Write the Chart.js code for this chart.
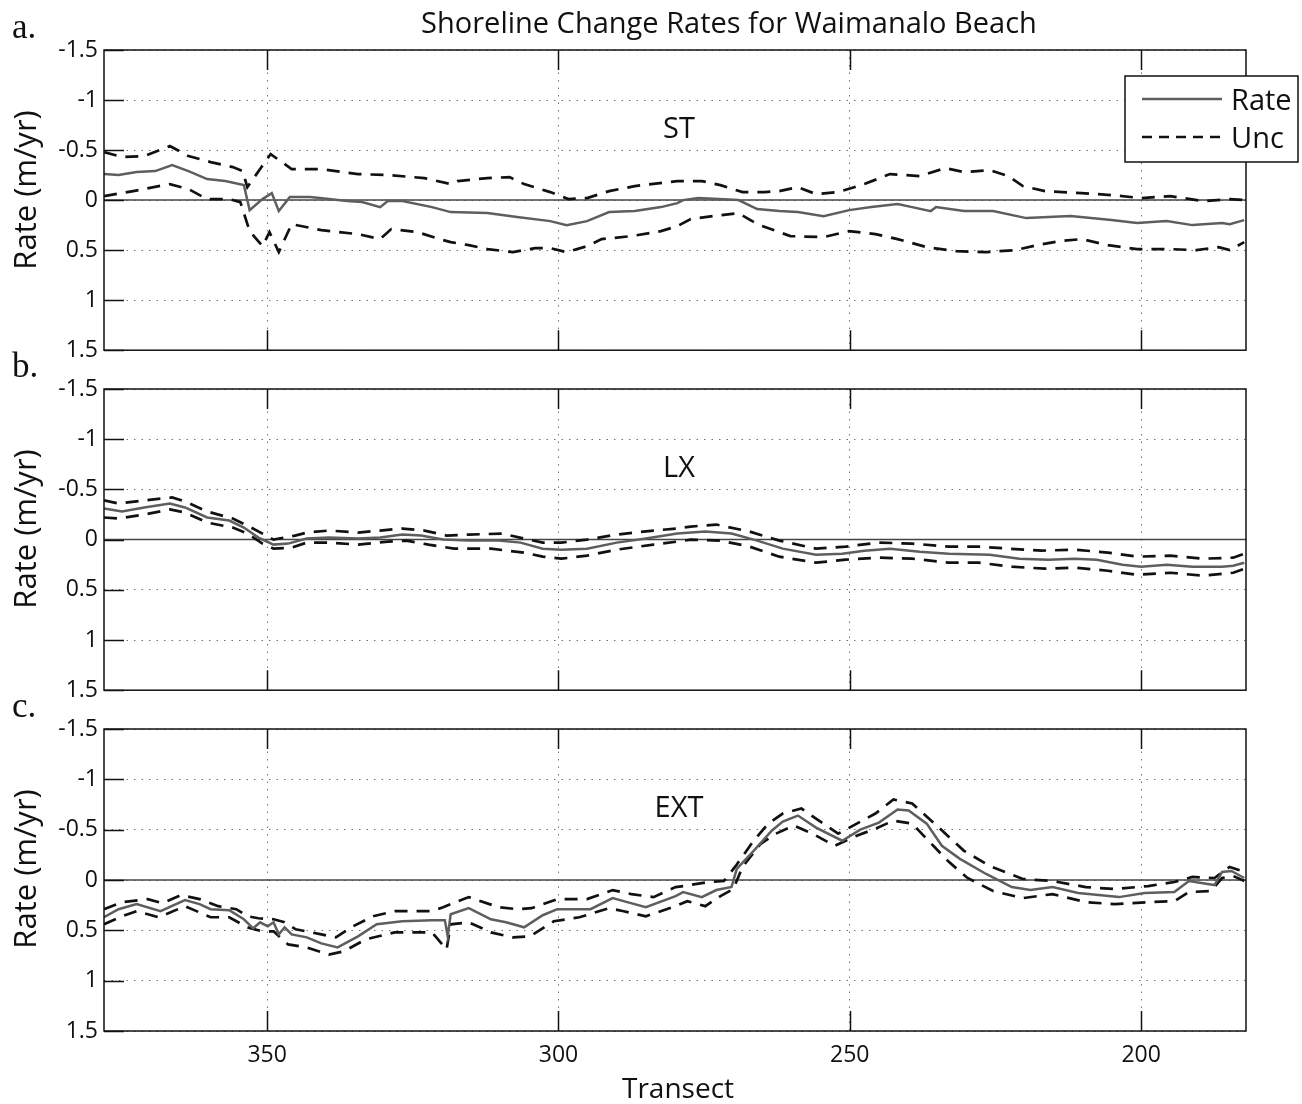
<!DOCTYPE html>
<html>
<head>
<meta charset="utf-8">
<script src="https://cdn.jsdelivr.net/npm/chart.js@4/dist/chart.umd.min.js"></script>
<style>
  body { margin: 0; background: #fff; width: 1302px; height: 1104px; position: relative; overflow: hidden; }
  canvas { position: absolute; left: 0; display: block; }
</style>
</head>
<body>
<canvas id="panelA" width="1302" height="370" style="top:0px"></canvas>
<canvas id="panelB" width="1302" height="360" style="top:350px"></canvas>
<canvas id="panelC" width="1302" height="414" style="top:690px"></canvas>
<script>
// axis ticks
const xTicks = [350, 300, 250, 200];
const yTicks = [-1.5, -1, -0.5, 0, 0.5, 1, 1.5];
const yTickLabels = ['-1.5', '-1', '-0.5', '0', '0.5', '1', '1.5'];

// ST (panel a)
const stRateT = [378, 375.5, 372.4, 369.2, 366.3, 363.5, 360.3, 357.2, 354, 353, 350.8, 349.2, 348, 346.1, 342.6, 339.4, 336.3, 333.7, 330.6, 329.3, 326.8, 321.7, 318.5, 312.2, 307.1, 301.4, 298.6, 295.1, 291.3, 286.9, 282.4, 279.6, 278.6, 276, 269.1, 265.9, 262.1, 258.9, 254.5, 250.1, 246.3, 241.8, 239.3, 236.1, 235.2, 230.4, 225.4, 219.7, 212.1, 205.1, 200.7, 195.6, 191.2, 186.1, 184.8, 182.3];
const stRate = [-0.26, -0.25, -0.28, -0.29, -0.35, -0.29, -0.21, -0.19, -0.15, 0.10, -0.01, -0.07, 0.11, -0.03, -0.03, -0.01, 0.01, 0.02, 0.07, 0.01, 0.01, 0.07, 0.12, 0.13, 0.17, 0.21, 0.25, 0.21, 0.12, 0.11, 0.07, 0.03, 0.00, -0.02, 0.00, 0.09, 0.11, 0.12, 0.16, 0.10, 0.07, 0.04, 0.07, 0.11, 0.07, 0.11, 0.11, 0.18, 0.16, 0.20, 0.23, 0.21, 0.25, 0.23, 0.24, 0.20];
const stUpT = [378, 374.9, 371.1, 366.7, 363.5, 359.7, 355.9, 354.2, 353.4, 349.4, 345.8, 340.7, 334.4, 329.3, 323, 318.5, 317.3, 312.2, 308.4, 305.9, 301.4, 298.3, 295.1, 291.3, 286.9, 279.6, 275.4, 272.2, 268.4, 264.6, 262.1, 258.9, 255.8, 252, 247.5, 243.1, 238, 233.6, 230.4, 226, 222.8, 220.3, 216.5, 210.2, 205.1, 200, 195, 189.3, 184.8, 182.3];
const stUp = [-0.48, -0.43, -0.44, -0.54, -0.44, -0.38, -0.33, -0.29, -0.13, -0.46, -0.31, -0.31, -0.26, -0.25, -0.22, -0.16, -0.19, -0.22, -0.23, -0.16, -0.08, -0.01, -0.02, -0.09, -0.14, -0.19, -0.19, -0.15, -0.08, -0.08, -0.09, -0.13, -0.06, -0.08, -0.16, -0.26, -0.24, -0.32, -0.28, -0.30, -0.24, -0.14, -0.09, -0.07, -0.05, -0.02, -0.04, 0.01, -0.01, 0.00];
const stLoT = [378, 373, 366.7, 363.5, 360.3, 356.5, 354.6, 353, 350.8, 349.6, 348, 345.8, 340.7, 334.4, 330.6, 328.7, 324.2, 320.4, 318.5, 315.4, 312.2, 307.8, 304, 301.4, 298.6, 295.1, 292.6, 287.5, 282.4, 279.6, 277.3, 273.5, 269.1, 265.9, 260.2, 254.5, 250.1, 245.6, 241.8, 236.8, 231.7, 226.6, 221.6, 217.8, 214, 210.2, 205.7, 200.7, 195, 190.5, 186.7, 184.8, 182.3];
const stLo = [-0.04, -0.09, -0.16, -0.11, -0.01, -0.01, 0.02, 0.31, 0.46, 0.32, 0.52, 0.24, 0.30, 0.34, 0.39, 0.29, 0.32, 0.39, 0.42, 0.45, 0.49, 0.52, 0.48, 0.48, 0.52, 0.46, 0.39, 0.36, 0.31, 0.26, 0.19, 0.16, 0.13, 0.24, 0.36, 0.37, 0.31, 0.34, 0.39, 0.47, 0.51, 0.52, 0.50, 0.45, 0.41, 0.39, 0.45, 0.49, 0.49, 0.50, 0.47, 0.50, 0.42];

// LX (panel b)
const lxRateT = [378, 374.9, 371.1, 366.7, 364.1, 360.3, 356.5, 354, 351.5, 348.9, 346.4, 343.2, 339.4, 334.4, 330.6, 326.8, 323.6, 319.8, 315.4, 310.3, 306.5, 302.7, 299.5, 295.1, 290, 285, 279.6, 274.8, 270.3, 265.9, 261.5, 255.8, 251.3, 247.5, 243.1, 238, 233, 226, 220.9, 215.9, 211.4, 207.6, 203.2, 200, 195.6, 191.2, 186.1, 184.2, 182.3];
const lxRate = [-0.31, -0.28, -0.32, -0.36, -0.32, -0.22, -0.19, -0.12, -0.02, 0.05, 0.04, -0.01, -0.02, -0.01, -0.02, -0.05, -0.04, 0.00, 0.01, 0.01, 0.03, 0.09, 0.10, 0.09, 0.03, -0.01, -0.06, -0.08, -0.06, 0.01, 0.09, 0.15, 0.14, 0.11, 0.09, 0.12, 0.14, 0.15, 0.19, 0.20, 0.19, 0.20, 0.25, 0.27, 0.25, 0.27, 0.27, 0.26, 0.23];
const lxUpT = [378, 375.5, 371.1, 366.3, 364.1, 360.3, 355.9, 353.4, 350.8, 348.9, 345.2, 343.2, 339.4, 334.4, 330.6, 326.8, 323, 319.2, 315.4, 309.7, 305.9, 302.7, 299.5, 295.1, 290, 283.7, 279.6, 277.3, 272.9, 267.2, 262.1, 255.8, 250.7, 245, 239.3, 233, 227.9, 222.8, 217.1, 211.4, 205.7, 200.7, 195, 189.3, 184.2, 182.3];
const lxUp = [-0.39, -0.36, -0.39, -0.42, -0.38, -0.28, -0.21, -0.14, -0.06, 0.00, -0.04, -0.07, -0.09, -0.07, -0.09, -0.11, -0.09, -0.04, -0.05, -0.06, -0.01, 0.03, 0.03, 0.00, -0.05, -0.09, -0.11, -0.13, -0.15, -0.08, 0.01, 0.09, 0.07, 0.03, 0.04, 0.07, 0.07, 0.09, 0.11, 0.10, 0.13, 0.17, 0.16, 0.19, 0.18, 0.14];
const lxLoT = [378, 375.5, 371.1, 366.7, 364.1, 360.3, 355.9, 353.4, 350.8, 348.9, 345.8, 343.2, 339.4, 334.4, 329.3, 326.1, 322.3, 317.9, 311.6, 305.9, 302.7, 299.5, 295.1, 290, 283.7, 279.6, 277.3, 272.2, 267.2, 262.1, 255.8, 250.7, 245, 239.3, 233, 227.9, 222.2, 216.5, 211.4, 205.7, 200.7, 195, 189.3, 184.2, 182.3];
const lxLo = [-0.22, -0.21, -0.25, -0.30, -0.27, -0.17, -0.12, -0.06, 0.04, 0.09, 0.08, 0.03, 0.03, 0.05, 0.02, 0.01, 0.05, 0.09, 0.09, 0.13, 0.17, 0.19, 0.16, 0.10, 0.05, 0.02, 0.00, 0.01, 0.07, 0.17, 0.23, 0.20, 0.18, 0.19, 0.23, 0.23, 0.27, 0.29, 0.28, 0.31, 0.35, 0.33, 0.36, 0.33, 0.29];

// EXT (panel c)
const extRateT = [378, 375.5, 372.4, 368.3, 364.1, 361.6, 359.7, 356.5, 354, 352.4, 351.2, 349.9, 348.9, 348, 347, 345.8, 343.2, 340.7, 337.9, 334.4, 331.2, 326.8, 321.7, 319.5, 319, 318.5, 315.4, 311.6, 309, 305.9, 302.7, 300.2, 294.5, 290.7, 288.2, 285, 279.9, 278.6, 275.4, 272.9, 270.3, 269.4, 266.5, 263.4, 261.5, 258.9, 255.8, 251.3, 248.2, 245, 241.8, 239.9, 236.8, 234.2, 231.1, 226.6, 222.2, 219, 215.2, 210.8, 203.8, 199.4, 194.3, 191.8, 187.4, 186.1, 184.5, 182.3];
const extRate = [0.37, 0.29, 0.24, 0.31, 0.20, 0.24, 0.29, 0.30, 0.39, 0.48, 0.42, 0.46, 0.42, 0.54, 0.47, 0.54, 0.57, 0.63, 0.67, 0.56, 0.44, 0.41, 0.40, 0.40, 0.56, 0.34, 0.28, 0.39, 0.42, 0.47, 0.35, 0.29, 0.29, 0.18, 0.22, 0.27, 0.16, 0.12, 0.17, 0.10, 0.07, -0.11, -0.29, -0.49, -0.58, -0.64, -0.52, -0.39, -0.50, -0.57, -0.70, -0.69, -0.56, -0.34, -0.21, -0.06, 0.07, 0.10, 0.07, 0.13, 0.17, 0.13, 0.12, 0.01, 0.05, -0.08, -0.09, -0.02];
const extUpT = [378, 374.9, 370.5, 368, 364.8, 361.6, 358.4, 355.3, 353.4, 351.5, 348.9, 347, 345.1, 340.7, 338.2, 335.6, 331.8, 328.1, 321.7, 319.8, 318.5, 315.4, 310.3, 307.1, 304.6, 300.2, 295.1, 290.7, 287.5, 283.7, 279.9, 278.6, 274.1, 271.6, 269.7, 266.5, 264, 261.5, 258.3, 255.8, 252, 248.8, 245.6, 242.5, 239.3, 234.9, 230.4, 226, 220.3, 215.2, 209.5, 204.5, 198.8, 194.3, 191.2, 187.4, 184.8, 182.3];
const extUp = [0.29, 0.22, 0.19, 0.23, 0.15, 0.19, 0.26, 0.29, 0.36, 0.38, 0.39, 0.42, 0.49, 0.54, 0.57, 0.47, 0.36, 0.31, 0.31, 0.27, 0.24, 0.17, 0.27, 0.29, 0.28, 0.19, 0.19, 0.10, 0.14, 0.17, 0.07, 0.06, 0.02, 0.01, -0.13, -0.39, -0.56, -0.66, -0.71, -0.61, -0.46, -0.56, -0.66, -0.80, -0.76, -0.53, -0.29, -0.14, -0.01, 0.01, 0.07, 0.09, 0.06, 0.02, -0.03, -0.02, -0.13, -0.08];
const extLoT = [378, 374.9, 372.4, 368.6, 364.1, 359.7, 356.5, 353.4, 350.8, 348.9, 346.4, 343.2, 339.4, 336.9, 333.1, 328.1, 321.7, 319.2, 318.5, 315.4, 311.6, 307.8, 304.9, 300.8, 296.4, 291.3, 288.8, 285, 279.9, 277.9, 274.8, 272.2, 270, 268.4, 265.3, 262.7, 259.6, 256.4, 252.6, 248.8, 245.6, 242.5, 239.3, 235.5, 233, 229.8, 225.4, 220.3, 215.2, 209.5, 204.5, 198.8, 194.3, 191.8, 188, 186.1, 184.2, 182.3];
const extLo = [0.44, 0.36, 0.31, 0.37, 0.26, 0.37, 0.37, 0.47, 0.51, 0.51, 0.64, 0.67, 0.74, 0.71, 0.59, 0.52, 0.52, 0.69, 0.44, 0.42, 0.52, 0.57, 0.56, 0.41, 0.37, 0.28, 0.31, 0.36, 0.26, 0.21, 0.26, 0.16, 0.09, -0.13, -0.36, -0.46, -0.54, -0.46, -0.34, -0.44, -0.51, -0.59, -0.56, -0.33, -0.18, -0.02, 0.11, 0.18, 0.14, 0.22, 0.24, 0.22, 0.21, 0.12, 0.11, -0.02, -0.04, 0.01];

const FONT = '"Open Sans", sans-serif';
const SERIF = '"Liberation Serif", "Times New Roman", serif';
const RATE_COLOR = '#5e5e5e';
const UNC_COLOR = '#111111';
const UNC_DASH = [13, 9];

const pts = (t, v) => t.map((x, i) => ({ x: x, y: v[i] }));

// frame, inward ticks, zero line, labels and legend
const panelDecor = {
    id: 'panelDecor',
    beforeDatasetsDraw(chart) {
        const { ctx, chartArea: a, scales: { y } } = chart;
        const y0 = y.getPixelForValue(0);
        ctx.save();
        ctx.strokeStyle = '#444';
        ctx.lineWidth = 1.5;
        ctx.beginPath();
        ctx.moveTo(a.left, y0);
        ctx.lineTo(a.right, y0);
        ctx.stroke();
        ctx.restore();
    },
    afterDraw(chart, args, opts) {
        const { ctx, chartArea: a, scales: { x, y } } = chart;
        ctx.save();
        ctx.strokeStyle = '#111';
        ctx.lineWidth = 1.5;
        ctx.strokeRect(a.left, a.top, a.right - a.left, a.bottom - a.top);
        ctx.beginPath();
        xTicks.forEach(v => {
            const px = Math.round(x.getPixelForValue(v)) + 0.5;
            ctx.moveTo(px, a.top); ctx.lineTo(px, a.top + 20);
            ctx.moveTo(px, a.bottom); ctx.lineTo(px, a.bottom - 20);
        });
        yTicks.forEach(v => {
            const py = Math.round(y.getPixelForValue(v)) + 0.5;
            ctx.moveTo(a.left, py); ctx.lineTo(a.left + 20, py);
        });
        ctx.stroke();

        ctx.fillStyle = '#111';
        // panel name
        ctx.font = '29px ' + FONT;
        ctx.textAlign = 'center';
        ctx.textBaseline = 'alphabetic';
        ctx.fillText(opts.name, 679, a.top + 88);

        // panel tag (a. b. c.)
        ctx.font = '35px ' + SERIF;
        ctx.textAlign = 'left';
        ctx.fillText(opts.tag, 12, a.top - 12);

        // y axis label
        ctx.save();
        ctx.translate(27, a.top + 140);
        ctx.rotate(-Math.PI / 2);
        ctx.font = '31px ' + FONT;
        ctx.textAlign = 'center';
        ctx.textBaseline = 'middle';
        ctx.fillText('Rate (m/yr)', 0, 0);
        ctx.restore();

        if (opts.title) {
            ctx.font = '29px ' + FONT;
            ctx.textAlign = 'center';
            ctx.fillText(opts.title, 729, 33);
        }
        if (opts.xTitle) {
            ctx.font = '28px ' + FONT;
            ctx.textAlign = 'center';
            ctx.fillText(opts.xTitle, 678, a.bottom + 67);
        }
        if (opts.legend) {
            const bx = 1125, by = 76, bw = 173, bh = 86;
            ctx.fillStyle = '#fff';
            ctx.fillRect(bx, by, bw, bh);
            ctx.strokeStyle = '#111';
            ctx.lineWidth = 1.5;
            ctx.strokeRect(bx, by, bw, bh);
            ctx.lineWidth = 2.5;
            ctx.strokeStyle = RATE_COLOR;
            ctx.beginPath(); ctx.moveTo(1142, 99); ctx.lineTo(1222, 99); ctx.stroke();
            ctx.strokeStyle = UNC_COLOR;
            ctx.setLineDash([10, 7]);
            ctx.beginPath(); ctx.moveTo(1142, 137); ctx.lineTo(1222, 137); ctx.stroke();
            ctx.setLineDash([]);
            ctx.fillStyle = '#111';
            ctx.font = '29px ' + FONT;
            ctx.textAlign = 'left';
            ctx.fillText('Rate', 1231, 110);
            ctx.fillText('Unc', 1231, 148);
        }
        ctx.restore();
    }
};

function makePanel(canvasId, rateT, rate, upT, up, loT, lo, decor, pad, showX) {
    const ctx = document.getElementById(canvasId).getContext('2d');
    return new Chart(ctx, {
        type: 'line',
        data: {
            datasets: [
                { label: 'Rate', data: pts(rateT, rate), borderColor: RATE_COLOR, borderWidth: 2.5 },
                { label: 'Unc', data: pts(upT, up), borderColor: UNC_COLOR, borderWidth: 2.7, borderDash: UNC_DASH },
                { label: 'Unc', data: pts(loT, lo), borderColor: UNC_COLOR, borderWidth: 2.7, borderDash: UNC_DASH }
            ]
        },
        options: {
            responsive: false,
            animation: false,
            events: [],
            layout: { padding: { left: 0, right: 56, top: pad.top, bottom: pad.bottom } },
            elements: { point: { radius: 0 }, line: { tension: 0, fill: false } },
            plugins: {
                legend: { display: false },
                tooltip: { enabled: false },
                panelDecor: decor
            },
            scales: {
                x: {
                    type: 'linear',
                    reverse: true,
                    min: 182,
                    max: 378,
                    afterBuildTicks: s => { s.ticks = xTicks.map(v => ({ value: v })); },
                    afterFit: s => { s.height = showX ? 73 : 0; },
                    ticks: { display: showX, color: '#111', font: { family: FONT, size: 23 }, padding: 11, maxRotation: 0 },
                    grid: { color: 'rgba(0,0,0,0.55)', lineWidth: 1, drawTicks: false },
                    border: { display: false, dash: [1.5, 6] }
                },
                y: {
                    type: 'linear',
                    reverse: true,
                    min: -1.5,
                    max: 1.5,
                    afterBuildTicks: s => { s.ticks = yTicks.map(v => ({ value: v })); },
                    afterFit: s => { s.width = 104; },
                    ticks: {
                        color: '#111',
                        font: { family: FONT, size: 23 },
                        padding: 6,
                        callback: v => yTickLabels[yTicks.indexOf(v)]
                    },
                    grid: { color: 'rgba(0,0,0,0.55)', lineWidth: 1, drawTicks: false },
                    border: { display: false, dash: [1.5, 6] }
                }
            }
        },
        plugins: [panelDecor]
    });
}

makePanel('panelA', stRateT, stRate, stUpT, stUp, stLoT, stLo,
    { name: 'ST', tag: 'a.', title: 'Shoreline Change Rates for Waimanalo Beach', legend: true },
    { top: 50, bottom: 18 }, false);
makePanel('panelB', lxRateT, lxRate, lxUpT, lxUp, lxLoT, lxLo,
    { name: 'LX', tag: 'b.' },
    { top: 39, bottom: 19 }, false);
makePanel('panelC', extRateT, extRate, extUpT, extUp, extLoT, extLo,
    { name: 'EXT', tag: 'c.', xTitle: 'Transect' },
    { top: 39, bottom: 0 }, true);
</script>
</body>
</html>
